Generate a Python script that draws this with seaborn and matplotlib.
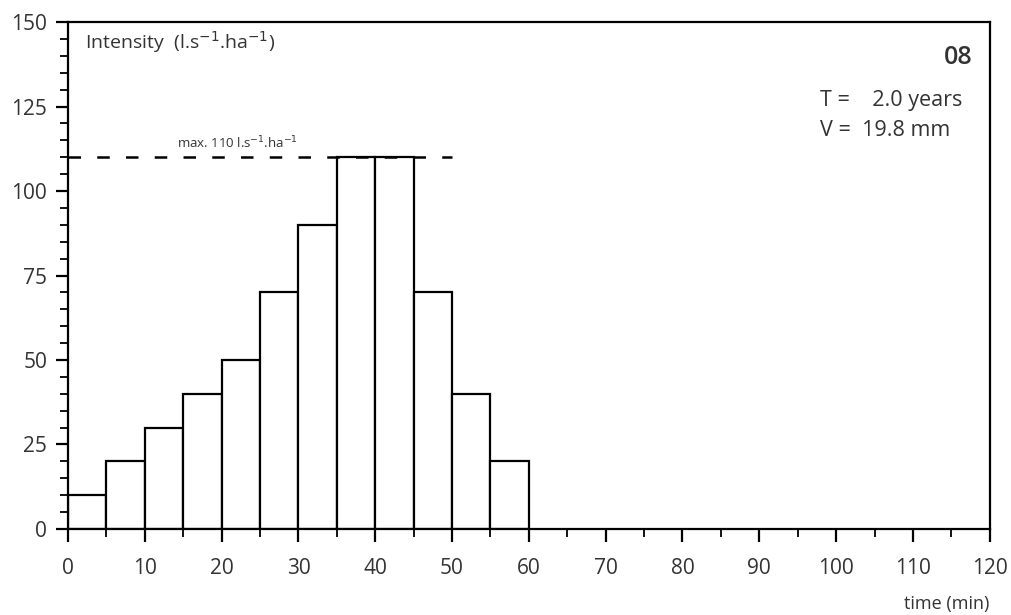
import pandas as pd
import matplotlib.pyplot as plt
import seaborn as sns
from matplotlib.ticker import MultipleLocator

sns.set_theme(style="white")
plt.rcParams['font.family'] = ['Open Sans', 'DejaVu Sans']

# Block rainfall, 5-minute intervals
time_start = [0, 5, 10, 15, 20, 25, 30, 35, 40, 45, 50, 55]
intensity = [10, 20, 30, 40, 50, 70, 90, 110, 110, 70, 40, 20]
max_intensity = 110
max_until = 50

df = pd.DataFrame({'time': time_start, 'intensity': intensity})

fig = plt.figure(figsize=(10.12, 6.15), dpi=100)
ax = fig.add_axes([0.0672, 0.140, 0.9108, 0.824])

sns.histplot(data=df, x='time', weights='intensity', binwidth=5, binrange=(0, 60),
             facecolor='white', edgecolor='black', linewidth=1.6, alpha=1, ax=ax)

ax.plot([0, max_until], [max_intensity, max_intensity], color='black',
        linestyle=(0, (5, 6.5)), linewidth=1.8)
ax.text(22, max_intensity + 1.8, 'max. 110 l.s$^{-1}$.ha$^{-1}$', fontsize=9.5,
        ha='center', va='bottom', color='#333333')

ax.set_xlim(0, 120)
ax.set_ylim(0, 150)
ax.xaxis.set_major_locator(MultipleLocator(10))
ax.xaxis.set_minor_locator(MultipleLocator(5))
ax.yaxis.set_major_locator(MultipleLocator(25))
ax.yaxis.set_minor_locator(MultipleLocator(5))
ax.tick_params(which='major', direction='out', length=9, width=1.6,
               labelsize=15, labelcolor='#333333', colors='black')
ax.tick_params(axis='x', which='major', pad=12)
ax.tick_params(axis='y', which='major', pad=6)
ax.tick_params(which='minor', direction='out', length=5.5, width=1.3,
               colors='black')
ax.tick_params(axis='x', which='both', bottom=True)
ax.tick_params(axis='y', which='both', left=True)
for s in ax.spines.values():
    s.set_color('black')
    s.set_linewidth(1.6)

ax.set_xlabel('')
ax.set_ylabel('')
ax.text(2.2, 147.8, 'Intensity  (l.s$^{-1}$.ha$^{-1}$)', fontsize=14, ha='left', va='top',
        color='#333333')
ax.text(117.8, 139.5, '08', fontsize=18, fontweight='semibold', ha='right',
        va='center', color='#333333')
ax.text(97.9, 126.8, 'T =    2.0 years', fontsize=15.5, ha='left', va='center',
        color='#333333')
ax.text(97.9, 117.8, 'V =  19.8 mm', fontsize=15.5, ha='left', va='center',
        color='#333333')
fig.text(0.978, 0.003, 'time (min)', fontsize=13, ha='right', va='bottom',
         color='#333333')

fig.savefig('out.png', dpi=100, facecolor='white')
